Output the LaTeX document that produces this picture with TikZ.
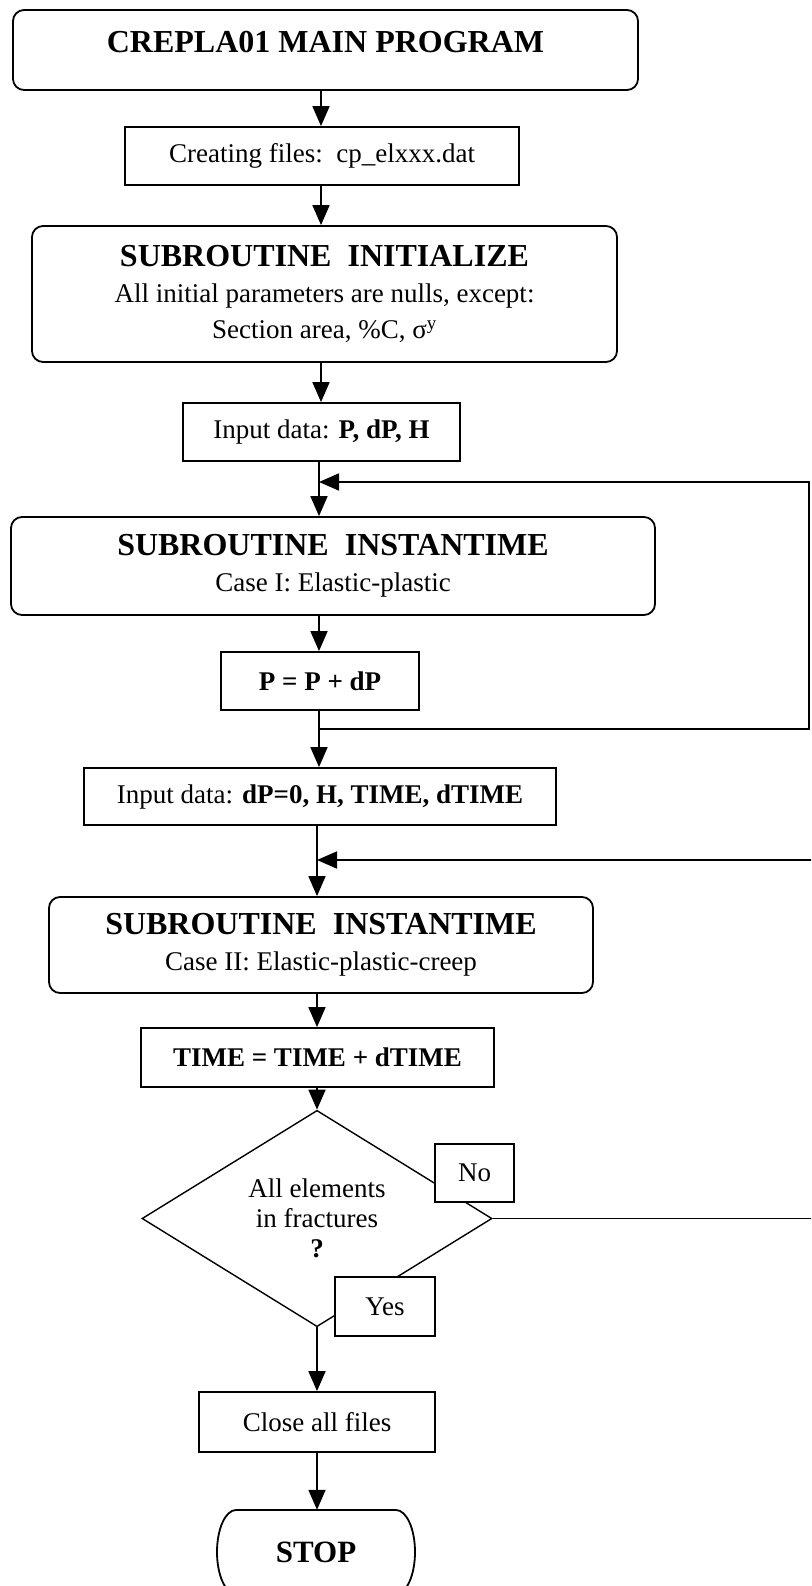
\documentclass[tikz,border=0pt]{standalone}
\usepackage{fontspec}
\setmainfont{Liberation Serif}
\usetikzlibrary{arrows.meta,shapes.geometric}
\newcommand\headtxt{\fontsize{32}{36}\selectfont\bfseries}
\begin{document}
\begin{tikzpicture}[x=1pt,y=-1pt,
  every node/.style={font=\fontsize{27}{36}\selectfont, inner sep=0pt, align=center},
  plainbox/.style={draw, line width=1.8pt, fill=white, rectangle},
  roundbox/.style={plainbox, rounded corners=11pt},
  flow/.style={line width=1.8pt},
  arr/.style={flow, -{Triangle[length=20pt,width=17pt]}}]
\useasboundingbox (0,0) rectangle (811,1586);
\clip (0,0) rectangle (811,1586);

% spine positions of the vertical flow lines
\coordinate (s1) at (321,0);
\coordinate (s2) at (319,0);
\coordinate (s3) at (317,0);

% boxes
\node[roundbox, minimum width=625pt, minimum height=80pt, text height=22pt, text depth=16pt]
  (main) at (325.5,50) {\headtxt CREPLA01 MAIN PROGRAM};
\node[plainbox, minimum width=394pt, minimum height=58pt]
  (cf) at (322,156) {Creating files:\ \ cp\_elxxx.dat};
\node[roundbox, minimum width=585pt, minimum height=136pt]
  (init) at (324.5,294) {{\headtxt SUBROUTINE\ \ INITIALIZE}\\All initial parameters are nulls, except:\\Section area, \%C, σ\textsuperscript{y}};
\node[plainbox, minimum width=277pt, minimum height=58pt]
  (in1) at (321.5,432) {Input data: \textbf{P, dP, H}};
\node[roundbox, minimum width=644pt, minimum height=98pt]
  (inst1) at (333,566) {{\headtxt SUBROUTINE\ \ INSTANTIME}\\Case I: Elastic-plastic};
\node[plainbox, minimum width=198pt, minimum height=58pt]
  (pbox) at (320,681) {\textbf{P = P + dP}};
\node[plainbox, minimum width=472pt, minimum height=57pt]
  (in2) at (320,796.5) {Input data: \textbf{dP=0, H, TIME, dTIME}};
\node[roundbox, minimum width=544pt, minimum height=96pt]
  (inst2) at (321,945) {{\headtxt SUBROUTINE\ \ INSTANTIME}\\Case II: Elastic-plastic-creep};
\node[plainbox, minimum width=353pt, minimum height=59pt]
  (tbox) at (317.5,1057.5) {\textbf{TIME = TIME + dTIME}};
\node[draw, diamond, line width=1.4pt, minimum width=350pt, minimum height=189pt,
  font=\fontsize{27}{30}\selectfont]
  (dia) at (317,1218.5) {All elements\\in fractures\\\textbf{?}};
\node[plainbox, line width=1.5pt, minimum width=79pt, minimum height=58pt]
  (no) at (474.5,1173) {No};
\node[plainbox, line width=1.5pt, minimum width=100pt, minimum height=59pt]
  (yes) at (385,1306.5) {Yes};
\node[plainbox, minimum width=236pt, minimum height=60pt]
  (close) at (317,1422) {Close all files};

% terminal: flat top and bottom, bulging sides
\node[minimum width=198pt, minimum height=84pt]
  (stop) at (316,1552) {\fontsize{31}{36}\selectfont\bfseries STOP};
\draw[line width=1.8pt] (236,1510) -- (396,1510)
  arc[start angle=-90, end angle=90, x radius=19, y radius=42]
  -- (236,1594)
  arc[start angle=90, end angle=270, x radius=19, y radius=42];

% main flow
\draw[arr] (main.south -| s1) -- (cf.north -| s1);
\draw[arr] (cf.south -| s1) -- (init.north -| s1);
\draw[arr] (init.south -| s1) -- (in1.north -| s1);
\draw[arr] (in1.south -| s2) -- (inst1.north -| s2);
\draw[arr] (inst1.south -| s2) -- (pbox.north -| s2);
\draw[arr] (pbox.south -| s2) -- (in2.north -| s2);
\draw[arr] (in2.south -| s3) -- (inst2.north -| s3);
\draw[arr] (inst2.south -| s3) -- (tbox.north -| s3);
\draw[arr] (tbox.south -| s3) -- (dia.north);
\draw[arr] (dia.south) -- (close.north -| dia.south);
\draw[arr] (close.south -| s3) -- (stop.north -| s3);

% loop of case I: back above SUBROUTINE INSTANTIME
\coordinate (j1) at (319,729);
\coordinate (r1a) at (809,729);
\coordinate (r1b) at (809,482);
\coordinate (t1) at (319,482);
\draw[arr] (j1) -- (r1a) -- (r1b) -- (t1);

% loop of case II: "No" branch back above SUBROUTINE INSTANTIME
\coordinate (r2a) at (815,1218.5);
\coordinate (r2b) at (815,860);
\coordinate (t2) at (317,860);
\draw[arr] (dia.east) -- (r2a) -- (r2b) -- (t2);
\end{tikzpicture}
\end{document}
